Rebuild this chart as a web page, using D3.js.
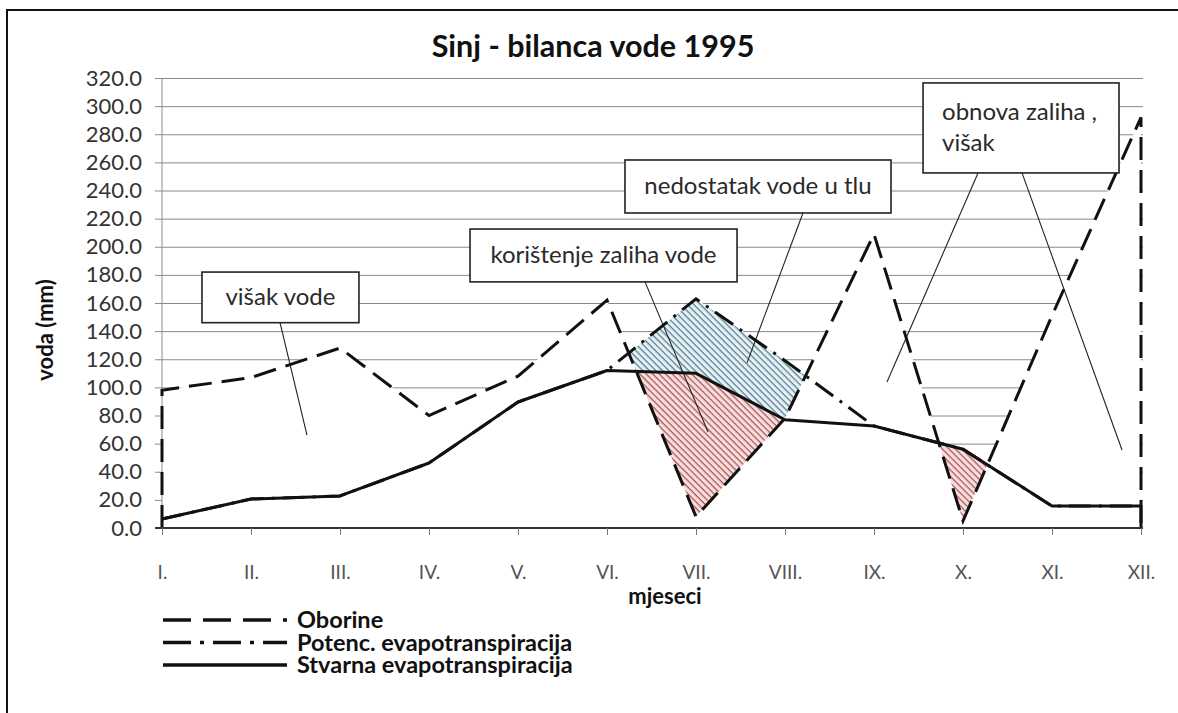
<!DOCTYPE html>
<html>
<head>
<meta charset="utf-8">
<script src="https://cdn.jsdelivr.net/npm/d3@7"></script>
<style>
  body { margin: 0; background: #fff; }
  svg { display: block; font-family: Lato, 'Open Sans', sans-serif; }
</style>
</head>
<body>
<div id="chart"></div>
<script>
// values (mm)
const months = ['I.', 'II.', 'III.', 'IV.', 'V.', 'VI.', 'VII.', 'VIII.', 'IX.', 'X.', 'XI.', 'XII.']
const oborine = [98, 107, 128, 80, 108, 162, 8, 78, 209, 5, 151, 292]
const potencEvap = [6.4, 20.6, 22.8, 46.2, 89.6, 112, 163, 119, 72.5, 56, 15.6, 15.6]
const stvarnaEvap = [6.4, 20.6, 22.8, 46.2, 89.6, 112, 110, 77, 72.5, 56, 15.6, 15.6]
const yTicks = d3.range(0, 321, 20)
const legendItems = ['Oborine', 'Potenc. evapotranspiracija', 'Stvarna evapotranspiracija']

const width = 1178
const height = 713

const x = d3.scaleLinear().domain([0, 11]).range([162, 1141])
const y = d3.scaleLinear().domain([0, 320]).range([528, 78])
const gridRight = 1143

const svg = d3.select('#chart').append('svg')
  .attr('width', width)
  .attr('height', height)

// frame (only top and left edges fall inside the picture)
svg.append('rect')
  .attr('x', 7).attr('y', 10)
  .attr('width', width + 40).attr('height', height + 40)
  .attr('fill', 'none')
  .attr('stroke', '#111')
  .attr('stroke-width', 2)

const defs = svg.append('defs')
function hatch(id, bg, fg) {
  const p = defs.append('pattern')
    .attr('id', id)
    .attr('patternUnits', 'userSpaceOnUse')
    .attr('width', 4.6).attr('height', 4.6)
    .attr('patternTransform', 'rotate(45)')
  p.append('rect').attr('width', 4.6).attr('height', 4.6).attr('fill', bg)
  p.append('line')
    .attr('x1', 0).attr('x2', 4.6)
    .attr('y1', 0.7).attr('y2', 0.7)
    .attr('stroke', fg)
    .attr('stroke-width', 1.1)
}
hatch('blueHatch', '#e4f2f7', '#44667a')
hatch('redHatch', '#f8dfdf', '#9e3d3d')

// gridlines
svg.append('g')
  .attr('transform', `translate(${x(0)},0)`)
  .call(d3.axisLeft(y).tickValues(yTicks.slice(1)).tickSize(-(gridRight - x(0))).tickFormat(''))
  .call(g => g.select('.domain').remove())
  .call(g => g.selectAll('.tick line').attr('stroke', '#8a8a8a'))

// precipitation drawn as a white area, so it hides the grid below it
svg.append('path')
  .datum(oborine)
  .attr('fill', '#fff')
  .attr('d', d3.area().x((d, i) => x(i)).y0(y(0)).y1(d => y(d)))

// hatched regions, bounded by crossings of the three series
function at(arr, t) {
  const i = Math.min(Math.floor(t), arr.length - 2)
  return arr[i] + (arr[i + 1] - arr[i]) * (t - i)
}
const series = [oborine, potencEvap, stvarnaEvap]
const ts = d3.range(12)
for (let i = 0; i < 11; i++) {
  for (let a = 0; a < 3; a++) {
    for (let b = a + 1; b < 3; b++) {
      const d0 = series[a][i] - series[b][i]
      const d1 = series[a][i + 1] - series[b][i + 1]
      if (d0 * d1 < 0) ts.push(i + d0 / (d0 - d1))
    }
  }
}
ts.sort((a, b) => a - b)
const pts = ts.map(t => ({ t, p: at(oborine, t), pet: at(potencEvap, t), aet: at(stvarnaEvap, t) }))

// nedostatak vode u tlu: PET above both precipitation and AET
svg.append('path')
  .datum(pts)
  .attr('fill', 'url(#blueHatch)')
  .attr('d', d3.area()
    .defined(d => d.pet >= Math.max(d.p, d.aet) - 1e-9)
    .x(d => x(d.t))
    .y0(d => y(Math.max(d.p, d.aet)))
    .y1(d => y(d.pet)))

// korištenje zaliha vode: AET above precipitation
svg.append('path')
  .datum(pts)
  .attr('fill', 'url(#redHatch)')
  .attr('d', d3.area()
    .defined(d => d.aet >= d.p - 1e-9)
    .x(d => x(d.t))
    .y0(d => y(d.p))
    .y1(d => y(d.aet)))

// annotation callouts, placed in chart units (month index, mm)
const notes = [
  { text: ['višak vode'], box: [0.449, 182, 2.213, 146], leaders: [[1.326, 146, 1.629, 66]] },
  { text: ['korištenje zaliha vode'], box: [3.461, 212.6, 6.461, 175], leaders: [[5.427, 175, 6.135, 68.3]] },
  { text: ['nedostatak vode u tlu'], box: [5.202, 261.7, 8.191, 224], leaders: [[7.202, 224, 6.573, 117.4]] },
  { text: ['obnova zaliha ,', 'višak'], box: [8.551, 316.5, 10.753, 252.5], left: true,
    leaders: [[9.169, 252.5, 8.146, 103.8], [9.663, 252.5, 10.787, 55.5]] }
]

const leaderG = svg.append('g')
notes.forEach(n => {
  n.leaders.forEach(l => {
    leaderG.append('line')
      .attr('x1', x(l[0])).attr('y1', y(l[1]))
      .attr('x2', x(l[2])).attr('y2', y(l[3]))
      .attr('stroke', '#222')
      .attr('stroke-width', 1.1)
  })
})

// y axis
const yAxis = svg.append('g')
  .attr('transform', `translate(${x(0)},0)`)
  .call(d3.axisLeft(y).tickValues(yTicks).tickSize(7).tickPadding(13).tickFormat(d3.format('.1f')))
yAxis.select('.domain').attr('stroke', '#8a8a8a').attr('d', `M0,${y(320)}V${y(0)}`)
yAxis.selectAll('.tick line').attr('stroke', '#8a8a8a')
yAxis.selectAll('.tick text')
  .attr('font-family', 'Lato, sans-serif')
  .attr('font-size', 22)
  .attr('fill', '#333')

// series lines
const pLine = [[0, 0]].concat(oborine.map((v, i) => [i, v]), [[11, 0]])
svg.append('path')
  .datum(pLine)
  .attr('fill', 'none')
  .attr('stroke', '#111')
  .attr('stroke-width', 3)
  .attr('stroke-dasharray', '23,10')
  .attr('d', d3.line().x(d => x(d[0])).y(d => y(d[1])))

svg.append('path')
  .datum(potencEvap)
  .attr('fill', 'none')
  .attr('stroke', '#111')
  .attr('stroke-width', 3)
  .attr('stroke-dasharray', '22,8,3,8')
  .attr('d', d3.line().x((d, i) => x(i)).y(d => y(d)))

const aetLine = stvarnaEvap.map((v, i) => [i, v]).concat([[11, 0]])
svg.append('path')
  .datum(aetLine)
  .attr('fill', 'none')
  .attr('stroke', '#111')
  .attr('stroke-width', 3)
  .attr('stroke-linejoin', 'round')
  .attr('d', d3.line().x(d => x(d[0])).y(d => y(d[1])))

// x axis
const xAxis = svg.append('g')
  .attr('transform', `translate(0,${y(0)})`)
  .call(d3.axisBottom(x).tickValues(d3.range(12)).tickSize(7).tickPadding(31).tickFormat(i => months[i]))
xAxis.select('.domain').attr('stroke', '#333').attr('stroke-width', 2).attr('d', `M${x(0) - 7},0H${gridRight}`)
xAxis.selectAll('.tick line').attr('stroke', '#777')
xAxis.selectAll('.tick text')
  .attr('font-family', 'Lato, sans-serif')
  .attr('font-size', 19)
  .attr('fill', '#555')

// callout boxes
notes.forEach(n => {
  const [bx0, by0, bx1, by1] = n.box
  const g = svg.append('g')
  g.append('rect')
    .attr('x', x(bx0)).attr('y', y(by0))
    .attr('width', x(bx1) - x(bx0))
    .attr('height', y(by1) - y(by0))
    .attr('fill', '#fff')
    .attr('stroke', '#222')
    .attr('stroke-width', 1.6)
  const fs = 24
  const cx = (x(bx0) + x(bx1)) / 2
  const cy = (y(by0) + y(by1)) / 2
  n.text.forEach((t, k) => {
    g.append('text')
      .text(t)
      .attr('x', n.left ? x(bx0) + 19 : cx)
      .attr('y', n.left ? y(by0) + 37 + k * 31 : cy + fs * 0.33)
      .attr('text-anchor', n.left ? 'start' : 'middle')
      .attr('font-size', fs)
      .attr('fill', '#2a2a2a')
  })
})

// titles
svg.append('text')
  .text('Sinj - bilanca vode 1995')
  .attr('x', 593).attr('y', 57)
  .attr('text-anchor', 'middle')
  .attr('font-size', 30.5)
  .attr('font-weight', 'bold')
  .attr('fill', '#111')

svg.append('text')
  .text('voda (mm)')
  .attr('transform', `translate(53, ${(y(0) + y(320)) / 2 + 27}) rotate(-90)`)
  .attr('text-anchor', 'middle')
  .attr('font-size', 22)
  .attr('font-weight', 'bold')
  .attr('fill', '#111')

svg.append('text')
  .text('mjeseci')
  .attr('x', 665).attr('y', 604)
  .attr('text-anchor', 'middle')
  .attr('font-size', 22)
  .attr('font-weight', 'bold')
  .attr('fill', '#111')

// legend
const legendDash = ['28,12', '28,9,4,9', null]
const legend = svg.append('g').attr('transform', 'translate(163, 620)')
legendItems.forEach((name, i) => {
  const row = legend.append('g').attr('transform', `translate(0, ${i * 22.5})`)
  row.append('line')
    .attr('x1', 0).attr('x2', 124)
    .attr('stroke', '#111')
    .attr('stroke-width', 3.5)
    .attr('stroke-dasharray', legendDash[i])
  row.append('text')
    .text(name)
    .attr('x', 134).attr('y', 8)
    .attr('font-size', 23.5)
    .attr('font-weight', 'bold')
    .attr('fill', '#111')
})
</script>
</body>
</html>
